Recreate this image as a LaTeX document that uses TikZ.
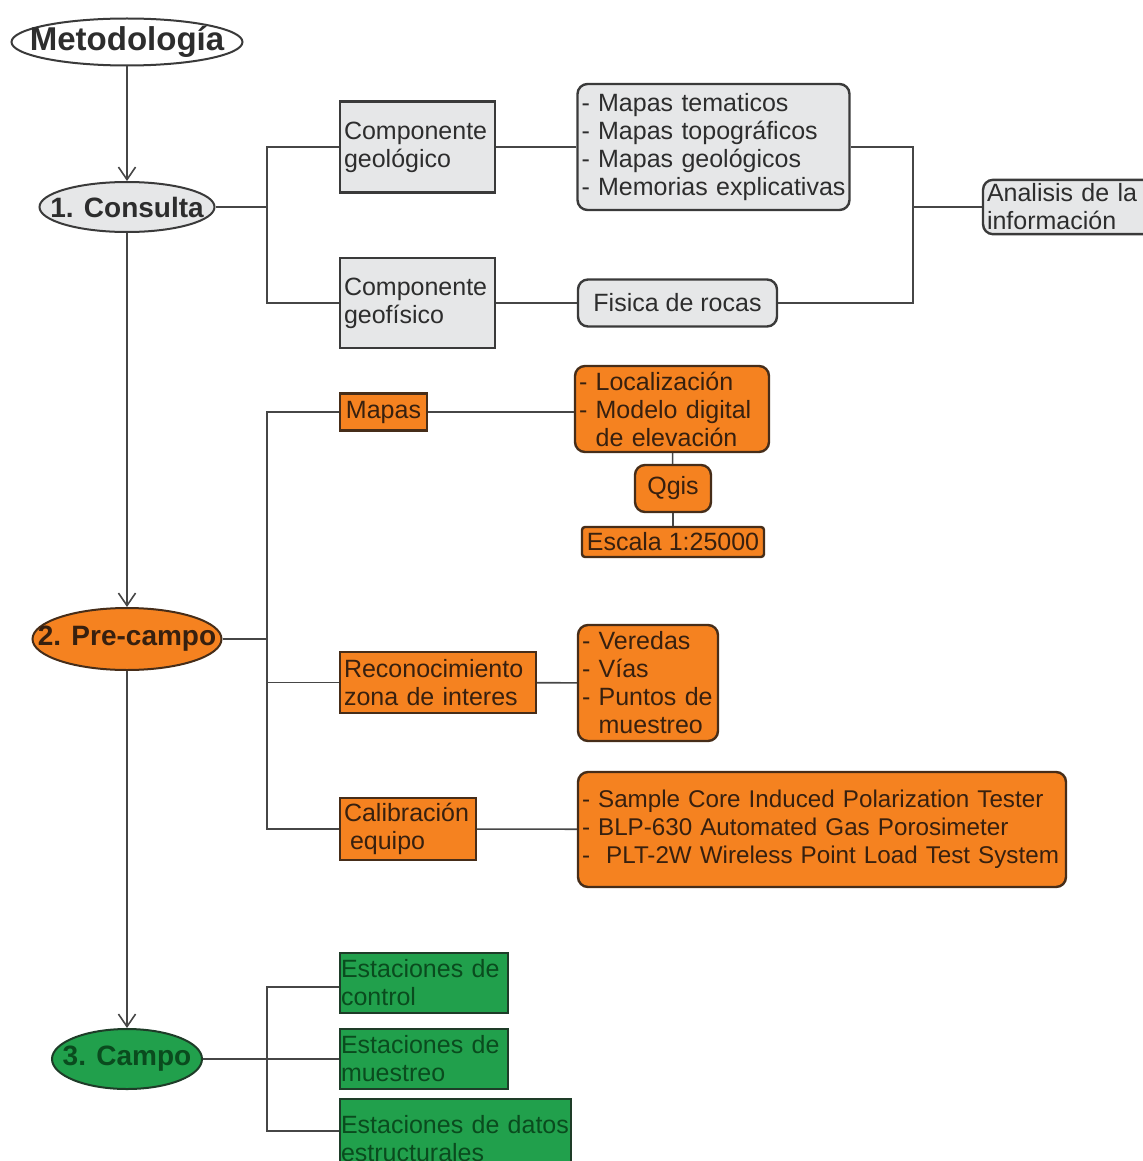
\documentclass[tikz,border=0pt]{standalone}
\usepackage{fontspec}
\setmainfont{Liberation Sans}
\usepackage{tikz}
\usetikzlibrary{shapes.geometric,arrows.meta}
\definecolor{edge}{RGB}{58,58,58}
\definecolor{wire}{RGB}{70,70,70}
\definecolor{ink}{RGB}{45,45,45}
\definecolor{greyfill}{RGB}{230,231,232}
\definecolor{orangefill}{RGB}{245,130,32}
\definecolor{orangeedge}{RGB}{70,45,25}
\definecolor{orangeink}{RGB}{55,32,15}
\definecolor{greenfill}{RGB}{33,160,76}
\definecolor{greenedge}{RGB}{30,60,40}
\definecolor{greenink}{RGB}{10,75,30}
\newcommand{\boxfont}{\fontsize{12.5}{14}\selectfont}
\newcommand{\phasetxt}[1]{\makebox[0pt]{#1}}
\tikzset{
  phase/.style={ellipse,draw=edge,line width=1pt,inner sep=0pt,text=ink,font=\fontsize{14}{16}\selectfont\bfseries},
  gbox/.style={draw=edge,line width=1.2pt,fill=greyfill,text=ink,font=\boxfont,inner sep=2pt,align=left},
  gitem/.style={gbox,rounded corners=5pt},
  obox/.style={draw=orangeedge,line width=1.2pt,fill=orangefill,text=orangeink,font=\boxfont,inner sep=2pt,align=left},
  oitem/.style={obox,rounded corners=5pt},
  vbox/.style={draw=greenedge,line width=1.2pt,fill=greenfill,text=greenink,font=\boxfont,inner xsep=0.5pt,inner ysep=2pt,align=left},
  ln/.style={draw=wire,line width=0.8pt},
  arr/.style={ln,-{Straight Barb[length=2.2mm,width=3mm]}},
}
\begin{document}
\begin{tikzpicture}[x=0.5pt,y=-0.5pt]
  \useasboundingbox (0,0) rectangle (1143,1161);
  % phases
  \node[phase,fill=white,minimum width=115.5pt,minimum height=23.5pt,font=\fontsize{16.5}{18}\selectfont\bfseries] (meto) at (127,42) {\phasetxt{Metodología}};
  \node[phase,fill=greyfill,minimum width=87.5pt,minimum height=25pt] (cons) at (127,207) {\phasetxt{1. Consulta}};
  \node[phase,fill=orangefill,draw=orangeedge,text=orangeink,minimum width=94.5pt,minimum height=31pt] (pre) at (127,639) {\phasetxt{2. Pre-campo}};
  \node[phase,fill=greenfill,draw=greenedge,text=greenink,minimum width=75pt,minimum height=30pt] (campo) at (127,1059) {\phasetxt{3. Campo}};
  \draw[arr] (meto) -- (cons);
  \draw[arr] (cons) -- (pre);
  \draw[arr] (pre) -- (campo);
  % consulta branch
  \node[gbox,text width=73.5pt,minimum height=45.5pt] (geol) at (417.5,147) {Componente\\geológico};
  \node[gbox,text width=73.5pt,minimum height=45pt] (geof) at (417.5,303) {Componente\\geofísico};
  \node[gitem,text width=132pt,minimum height=63pt] (maps) at (713.5,147) {- Mapas tematicos\\- Mapas topográficos\\- Mapas geológicos\\- Memorias explicativas};
  \node[gitem,align=center,minimum width=99.5pt,minimum height=23.5pt] (fis) at (677.5,303) {Fisica de rocas};
  \node[gitem,text width=81pt,minimum height=27pt] (anal) at (1068,207) {Analisis de la\\información};
  \coordinate (busA) at (267,207);
  \coordinate (busB) at (913,207);
  \draw[ln] (cons) -- (busA);
  \draw[ln] (geol.west) -| (busA) |- (geof.west);
  \draw[ln] (geol) -- (maps);
  \draw[ln] (geof) -- (fis);
  \draw[ln] (maps.east) -| (busB) |- (fis.east);
  \draw[ln] (busB) -- (anal.west);
  % pre-campo branch
  \node[obox,align=center,minimum width=43.5pt,minimum height=18.5pt] (mapas) at (383.5,412) {Mapas};
  \node[oitem,text width=93pt,minimum height=43pt] (loc) at (672,409) {- Localización\\- Modelo digital\\\phantom{- }de elevación};
  \node[oitem,align=center,minimum width=38pt,minimum height=23.5pt] (qgis) at (673,488.5) {Qgis};
  \node[obox,rounded corners=1.5pt,align=center,minimum width=91pt,minimum height=15pt,inner ysep=0.5pt] (esc) at (673,542) {Escala 1:25000};
  \node[obox,text width=94pt,minimum height=30.5pt] (reco) at (438,682.5) {Reconocimiento\\zona de interes};
  \node[oitem,text width=66pt,minimum height=58pt] (ver) at (648,683) {- Veredas\\- Vías\\- Puntos de\\\phantom{- }muestreo};
  \node[obox,text width=64pt,minimum height=31pt] (calib) at (408,829) {Calibración\\\hspace{3pt}equipo};
  \node[oitem,text width=240pt,minimum height=57.5pt,font=\fontsize{12.1}{14}\selectfont] (tools) at (822,829.5) {- Sample Core Induced Polarization Tester\\- BLP-630 Automated Gas Porosimeter\\-\ \ PLT-2W Wireless Point Load Test System};
  \coordinate (busC) at (267,639);
  \draw[ln] (pre) -- (busC);
  \draw[ln] (mapas.west) -| (busC) |- (calib.west);
  \draw[ln] (busC |- reco.west) -- (reco.west);
  \draw[ln] (mapas.east) -- (mapas.east -| loc.west);
  \draw[ln] (loc) -- (qgis);
  \draw[ln] (qgis) -- (esc);
  \draw[ln] (reco) -- (ver);
  \draw[ln] (calib) -- (tools);
  % campo branch
  \node[vbox,text width=83pt,minimum height=30pt] (ectrl) at (424,983) {Estaciones de\\control};
  \node[vbox,text width=83pt,minimum height=30pt] (emues) at (424,1059) {Estaciones de\\muestreo};
  \node[vbox,text width=114.5pt,minimum height=40pt] (edat) at (455.5,1139) {Estaciones de datos\\estructurales};
  \coordinate (busD) at (267,1059);
  \draw[ln] (campo) -- (emues);
  \draw[ln] ([yshift=-2pt]ectrl.west) -| (busD) |- ([yshift=4pt]edat.west);
\end{tikzpicture}
\end{document}
